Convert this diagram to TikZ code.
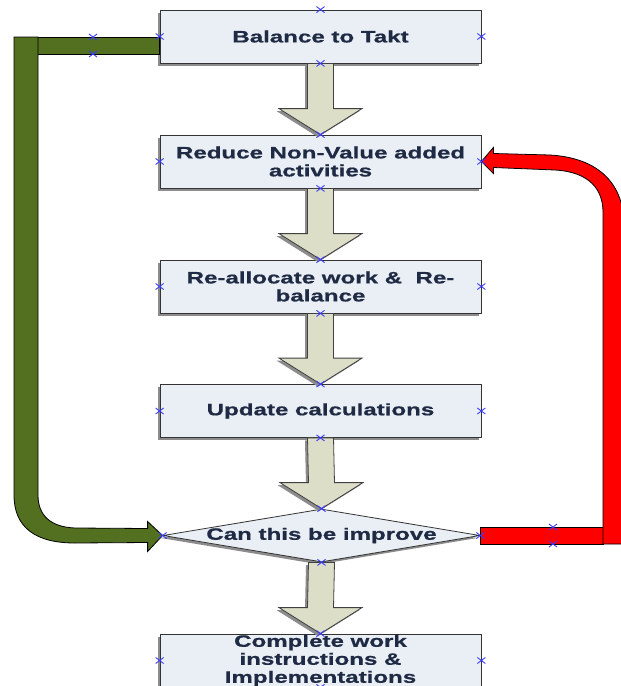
\documentclass[tikz,border=0pt]{standalone}
\usepackage{fontspec}
\setmainfont{Liberation Sans}[FakeStretch=1.46, FakeBold=0.8]
\usetikzlibrary{calc,shapes.geometric}

\definecolor{boxfill}{HTML}{EAEFF5}
\definecolor{boxtext}{HTML}{1F2A44}
\definecolor{arrowfill}{HTML}{DCDEC8}
\definecolor{loopgreen}{HTML}{52701F}
\definecolor{loopred}{HTML}{FF0000}
\definecolor{pinblue}{HTML}{3A3AFF}

\tikzset{
  shade/.style={preaction={fill=black!45, transform canvas={shift={(-2.5pt,-2.5pt)}}}},
  stepbox/.style={shade, draw=black!80, line width=0.8pt, fill=boxfill,
    minimum width=321, minimum height=53, inner sep=0pt, align=center,
    text=boxtext, font=\fontsize{16.5}{18}\selectfont\bfseries},
  decision/.style={shade, diamond, draw=black!80, line width=0.8pt, fill=boxfill,
    minimum width=317, minimum height=53, inner sep=0pt, aspect=6},
  decisiontext/.style={text=boxtext, font=\fontsize{16.5}{18}\selectfont\bfseries, inner sep=0pt},
  blockarrow/.style={shade, fill=arrowfill, draw=black!75, line width=0.8pt, line join=miter},
  greenloop/.style={fill=loopgreen, draw=black, line width=0.8pt},
  redloop/.style={fill=loopred, draw=black, line width=0.8pt},
  pin/.style={draw=pinblue, line width=0.9pt},
}

% wide block arrow from the bottom of one shape to the top of the next
\newcommand\flowarrow[2]{%
  \draw[blockarrow] ($(#1.south)+(-13,0)$) -- ($(#2.north)+(-13,-26)$)
    -- ($(#2.north)+(-41.5,-26)$) -- (#2.north) -- ($(#2.north)+(41.5,-26)$)
    -- ($(#2.north)+(13,-26)$) -- ($(#1.south)+(13,0)$) -- cycle;}

% connection-point cross
\newcommand\pinmark[1]{%
  \draw[pin] (#1) +(-4,-3) -- +(4,3) +(-4,3) -- +(4,-3);}

\begin{document}
\begin{tikzpicture}[x=1pt, y=-1pt]
\useasboundingbox (0,0) rectangle (621,686);

% process steps
\node[stepbox] (b1) at (320.5,36.5) {Balance to Takt};
\node[stepbox] (b2) at (320.5,161.5) {Reduce Non-Value added\\activities};
\node[stepbox] (b3) at (320.5,286.5) {Re-allocate work \&\ \ Re-\\balance};
\node[stepbox] (b4) at (320.5,411) {Update calculations};
\node[decision] (dec) at (321.5,535.5) {};
\node[decisiontext] (dect) at (dec.center) {Can this be improve};
\node[stepbox] (b6) at (320.5,660.5) {Complete work\\instructions \&\\Implementations};

% downward flow
\flowarrow{b1}{b2}
\flowarrow{b2}{b3}
\flowarrow{b3}{b4}
\flowarrow{b4}{dec}
\flowarrow{dec}{b6}

% green loop: from the first step down to the decision
\coordinate (gstart) at (b1.west);
\draw[greenloop] (14,37) rectangle (gstart |- 0,54);
\draw[greenloop] (14,37) -- (14,495) .. controls (14,527) and (35,543) .. (75,543)
  -- ($(dec.west)+(-15,7)$) -- ($(dec.west)+(-15,16)$) -- (dec.west)
  -- ($(dec.west)+(-15,-14)$) -- ($(dec.west)+(-15,-7)$) -- (75,528)
  .. controls (50,527) and (38,515) .. (38,495) -- (38,37) -- cycle;

% red loop: from the decision back to step two
\draw[redloop] (dec.east |- 0,527) rectangle (603,544);
\draw[redloop] (603,544) -- (603,212) .. controls (603,190) and (590,172) .. (555,170)
  -- ($(b2.east)+(12,6)$) -- ($(b2.east)+(12,12)$) -- (b2.east)
  -- ($(b2.east)+(12,-14)$) -- ($(b2.east)+(12,-8)$) -- (550,155)
  .. controls (600,158) and (624,185) .. (624,225) -- (624,544) -- cycle;

% connection points
\foreach \n in {b1,b2,b3,b4,b6,dec}{
  \pinmark{\n.north}
  \pinmark{\n.south}
  \pinmark{\n.west}
  \pinmark{\n.east}
}
\pinmark{93,37}
\pinmark{93,54}
\pinmark{553,527}
\pinmark{553,544}
\end{tikzpicture}
\end{document}
